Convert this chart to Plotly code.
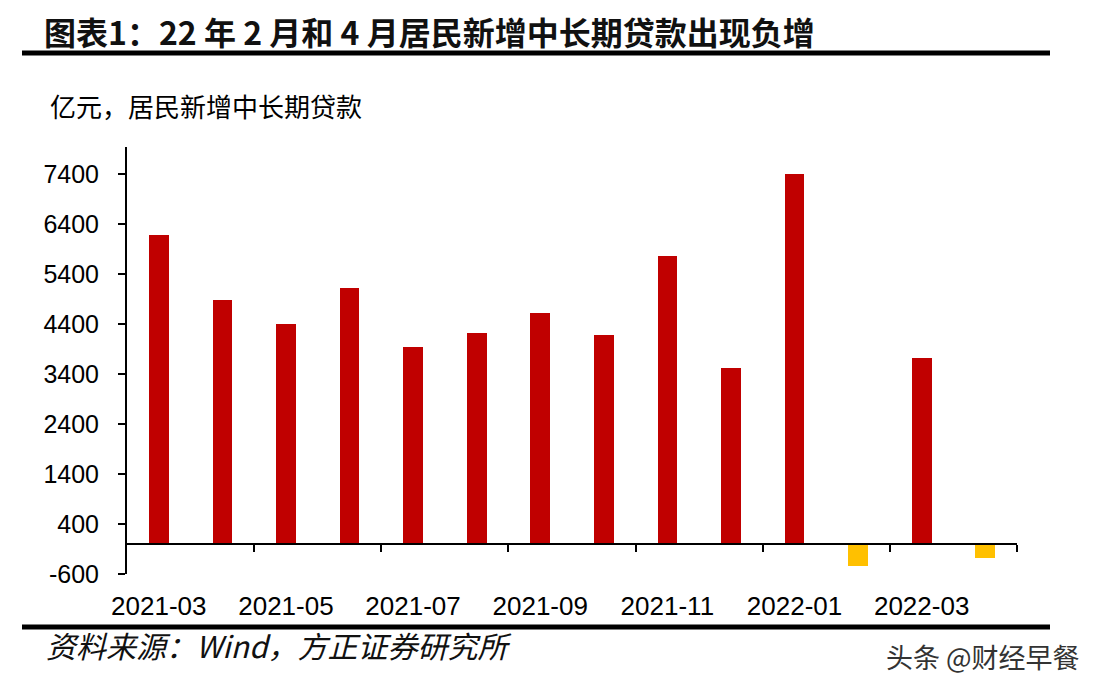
import plotly.graph_objects as go

months = ["2021-03", "2021-04", "2021-05", "2021-06", "2021-07", "2021-08", "2021-09",
          "2021-10", "2021-11", "2021-12", "2022-01", "2022-02", "2022-03", "2022-04"]
values = [6180, 4880, 4400, 5120, 3940, 4220, 4620, 4180, 5760, 3520, 7400, -440, 3720, -280]
y_ticks = [-600, 400, 1400, 2400, 3400, 4400, 5400, 6400, 7400]
y_tick_text = ["-600", "400", "1400", "2400", "3400", "4400", "5400", "6400", "7400"]

RED = "#C00000"
YELLOW = "#FFC000"
colors = [RED if v >= 0 else YELLOW for v in values]

idx = list(range(len(months)))
y_min, y_max = -600, 7950
x_rng = [-0.5, len(months) - 0.5]

# page body has an 8px margin, so the figure's (0,0) is at (8,8) on screen
OFF = 8
W, H = 1092, 680
L, T = 127 - OFF, 147 - OFF
PW, PH = 890, 427

fig = go.Figure()
fig.add_trace(go.Bar(x=idx, y=values, marker=dict(color=colors, line=dict(width=0)),
                     width=0.31, showlegend=False, hoverinfo="skip"))
fig.add_trace(go.Scatter(x=[idx[0]], y=[0], xaxis="x2", mode="markers",
                         marker=dict(opacity=0), showlegend=False, hoverinfo="skip"))

zero_pos = (0 - y_min) / (y_max - y_min)

font_num = "Liberation Sans, Arial, sans-serif"
fig.update_layout(
    width=W, height=H,
    paper_bgcolor="white", plot_bgcolor="white",
    margin=dict(l=L, r=W - L - PW, t=T, b=H - T - PH, pad=0),
    bargap=0,
    xaxis=dict(range=x_rng, tickvals=idx[::2], ticktext=months[::2],
               showline=False, showgrid=False, zeroline=False,
               ticks="outside", ticklen=9, tickcolor="rgba(0,0,0,0)",
               tickfont=dict(family=font_num, size=26, color="#000")),
    xaxis2=dict(range=x_rng, overlaying="x", anchor="free", position=zero_pos,
                side="bottom", showline=True, linecolor="#000", linewidth=2,
                tickvals=[i + 1.5 for i in idx[::2]], ticks="outside", ticklen=7,
                tickwidth=2, tickcolor="#000", showticklabels=False,
                showgrid=False, zeroline=False),
    yaxis=dict(range=[y_min, y_max], tickvals=y_ticks, ticktext=y_tick_text,
               showgrid=False, zeroline=False,
               showline=True, linecolor="#000", linewidth=2, ticks="outside",
               ticklen=7, tickwidth=2, tickcolor="#000", ticklabelstandoff=14,
               tickfont=dict(family=font_num, size=25, color="#000")),
)

def px_x(x):
    return (x - 127) / PW

def px_y(y):
    return (574 - y) / PH

fig.add_shape(type="line", xref="paper", yref="paper",
              x0=px_x(22), x1=px_x(1050), y0=px_y(53), y1=px_y(53),
              line=dict(color="#000", width=5))
fig.add_shape(type="line", xref="paper", yref="paper",
              x0=px_x(22), x1=px_x(1050), y0=px_y(627), y1=px_y(627),
              line=dict(color="#000", width=5))

fig.add_annotation(text="<b>图表1：22 年 2 月和 4 月居民新增中长期贷款出现负增</b>",
                   xref="paper", yref="paper", x=px_x(42), y=px_y(31),
                   xanchor="left", yanchor="middle", showarrow=False,
                   font=dict(family="Noto Sans CJK SC", size=32, color="#111"))
fig.add_annotation(text="亿元，居民新增中长期贷款",
                   xref="paper", yref="paper", x=px_x(48), y=px_y(106),
                   xanchor="left", yanchor="middle", showarrow=False,
                   font=dict(family="Noto Sans CJK SC", size=26, color="#000"))
fig.add_annotation(text="<i>资料来源：Wind，方正证券研究所</i>",
                   xref="paper", yref="paper", x=px_x(44), y=px_y(645),
                   xanchor="left", yanchor="middle", showarrow=False,
                   font=dict(family="Noto Sans CJK SC", size=30, color="#111"))
fig.add_annotation(text="头条 @财经早餐",
                   xref="paper", yref="paper", x=px_x(1082), y=px_y(656),
                   xanchor="right", yanchor="middle", showarrow=False,
                   font=dict(family="Noto Sans CJK SC", size=27, color="#333"))

fig.write_html("out.html")
